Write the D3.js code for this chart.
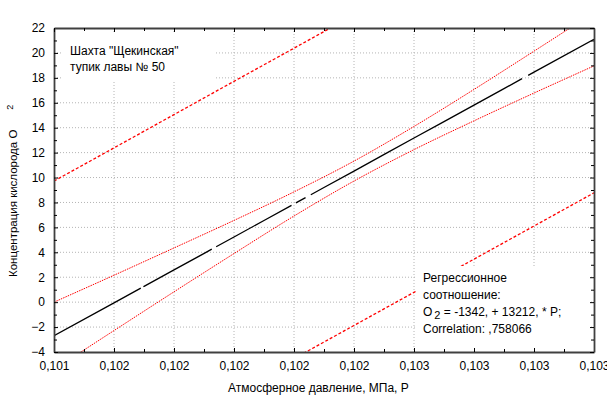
<!DOCTYPE html>
<html>
<head>
<meta charset="utf-8">
<script src="https://cdn.jsdelivr.net/npm/d3@7"></script>
<style>
  body { margin: 0; background: #fff; }
  svg text { font-family: "Liberation Sans", Arial, sans-serif; font-size: 12px; fill: #000; }
</style>
</head>
<body>
<svg id="chart" width="607" height="398"></svg>
<script>
// pressure values (MPa) at the x ticks
var pressure = [0.1014, 0.1016, 0.1018, 0.1020, 0.1022, 0.1024, 0.1026, 0.1028, 0.1030, 0.1032];
var xTickLabels = ["0,101", "0,102", "0,102", "0,102", "0,102", "0,102", "0,103", "0,103", "0,103", "0,103"];
var yTicks = [-4, -2, 0, 2, 4, 6, 8, 10, 12, 14, 16, 18, 20, 22];

// O2 concentration at each pressure value
var fitO2 = [-2.70, -0.06, 2.59, 5.23, 7.88, 10.52, 13.17, 15.81, 18.46, 21.10];
var confUpper = [0.00, 2.16, 4.35, 6.56, 8.85, 11.32, 14.10, 17.07, 20.14, 23.24];
var confLower = [-5.40, -2.28, 0.83, 3.90, 6.91, 9.72, 12.24, 14.55, 16.78, 18.96];
var predUpper = [9.72, 12.38, 15.05, 17.72, 20.38, 23.05, 25.72, 28.38, 31.05, 33.72];
var predLower = [-15.17, -12.51, -9.85, -7.19, -4.53, -1.87, 0.79, 3.45, 6.11, 8.77];

var titleLines = ['Шахта "Щекинская"', 'тупик лавы № 50'];
var noteLines = ['Регрессионное', 'соотношение:'];

var margin = { top: 28, right: 13, bottom: 46, left: 54 };
var width = 607 - margin.left - margin.right;
var height = 398 - margin.top - margin.bottom;

var svg = d3.select('#chart');
var g = svg.append('g')
    .attr('transform', 'translate(' + margin.left + ',' + margin.top + ')');

var x = d3.scaleLinear()
    .domain([pressure[0], pressure[pressure.length - 1]])
    .range([0, width]);

var y = d3.scaleLinear()
    .domain([-4, 22])
    .range([height, 0]);

// minor tick positions halfway between the majors
var xMinor = d3.pairs(pressure).map(function(p) { return (p[0] + p[1]) / 2; });
var yMinor = d3.pairs(yTicks).map(function(p) { return (p[0] + p[1]) / 2; });

// grid
g.append('g').selectAll('line')
    .data(pressure.slice(1, -1))
    .join('line')
    .attr('x1', function(d) { return x(d); })
    .attr('x2', function(d) { return x(d); })
    .attr('y1', 0)
    .attr('y2', height)
    .attr('stroke', '#b4b4b4')
    .attr('stroke-dasharray', '1,2');

g.append('g').selectAll('line')
    .data(yTicks.slice(1, -1))
    .join('line')
    .attr('y1', function(d) { return y(d); })
    .attr('y2', function(d) { return y(d); })
    .attr('x1', 0)
    .attr('x2', width)
    .attr('stroke', '#b4b4b4')
    .attr('stroke-dasharray', '1,2');

g.append('clipPath')
    .attr('id', 'plotClip')
    .append('rect')
    .attr('width', width)
    .attr('height', height);

var line = d3.line()
    .x(function(d) { return x(d[0]); })
    .y(function(d) { return y(d[1]); })
    .curve(d3.curveMonotoneX);

function series(values) {
  return d3.zip(pressure, values);
}

var plot = g.append('g').attr('clip-path', 'url(#plotClip)');

plot.append('path')
    .datum(series(predUpper))
    .attr('fill', 'none')
    .attr('stroke', '#ff0000')
    .attr('stroke-width', 1.3)
    .attr('stroke-dasharray', '3,2')
    .attr('d', line);

plot.append('path')
    .datum(series(predLower))
    .attr('fill', 'none')
    .attr('stroke', '#ff0000')
    .attr('stroke-width', 1.3)
    .attr('stroke-dasharray', '3,2')
    .attr('d', line);

plot.append('path')
    .datum(series(confUpper))
    .attr('fill', 'none')
    .attr('stroke', '#ff0000')
    .attr('stroke-width', 1)
    .attr('stroke-dasharray', '1.5,1')
    .attr('d', line);

plot.append('path')
    .datum(series(confLower))
    .attr('fill', 'none')
    .attr('stroke', '#ff0000')
    .attr('stroke-width', 1)
    .attr('stroke-dasharray', '1.5,1')
    .attr('d', line);

plot.append('path')
    .datum(series(fitO2))
    .attr('fill', 'none')
    .attr('stroke', '#000')
    .attr('stroke-width', 1.3)
    .attr('stroke-dasharray', '99,3,78,5,86,5,11,6,241,7,100')
    .attr('d', line);

// white boxes behind the texts
g.append('rect')
    .attr('x', 9).attr('y', 6)
    .attr('width', 152).attr('height', 46)
    .attr('fill', '#fff');

g.append('rect')
    .attr('x', 362).attr('y', 238)
    .attr('width', 174).attr('height', height - 238)
    .attr('fill', '#fff');

g.append('g').selectAll('text')
    .data(titleLines)
    .join('text')
    .attr('x', 16)
    .attr('y', function(d, i) { return 27 + i * 16; })
    .text(function(d) { return d; });

var note = g.append('g').attr('transform', 'translate(369,254)');
note.selectAll('text.n')
    .data(noteLines)
    .join('text')
    .attr('class', 'n')
    .attr('y', function(d, i) { return i * 17; })
    .text(function(d) { return d; });

var eq = note.append('text').attr('y', 34);
eq.append('tspan').text('O');
eq.append('tspan').attr('dx', 2).attr('dy', 3).style('font-size', '11px').text('2');
eq.append('tspan').attr('dy', -3).text(' = -1342, + 13212, * P;');

note.append('text').attr('y', 51).text('Correlation: ,758066');

// axes
function frame(axis) {
  return function(sel) {
    sel.call(axis);
    sel.select('.domain').attr('stroke', '#404040').attr('stroke-width', 1.8);
    sel.selectAll('.tick line').attr('stroke', '#000');
  };
}

g.append('g')
    .attr('transform', 'translate(0,' + height + ')')
    .call(frame(d3.axisBottom(x).tickValues(pressure).tickSize(-4).tickSizeOuter(0).tickPadding(9)
        .tickFormat(function(d, i) { return xTickLabels[i]; })));

g.append('g')
    .call(frame(d3.axisLeft(y).tickValues(yTicks).tickSize(-4).tickSizeOuter(0).tickPadding(9)
        .tickFormat(d3.format('d'))));

g.append('g')
    .call(frame(d3.axisTop(x).tickValues(pressure).tickSize(-4).tickSizeOuter(0).tickFormat('')));

g.append('g')
    .attr('transform', 'translate(' + width + ',0)')
    .call(frame(d3.axisRight(y).tickValues(yTicks).tickSize(-4).tickSizeOuter(0).tickFormat('')));

// minor ticks
g.append('g').attr('transform', 'translate(0,' + height + ')')
    .call(d3.axisBottom(x).tickValues(xMinor).tickSize(-3).tickFormat(''))
    .call(function(s) { s.select('.domain').remove(); });
g.append('g')
    .call(d3.axisTop(x).tickValues(xMinor).tickSize(-3).tickFormat(''))
    .call(function(s) { s.select('.domain').remove(); });
g.append('g')
    .call(d3.axisLeft(y).tickValues(yMinor).tickSize(-3).tickFormat(''))
    .call(function(s) { s.select('.domain').remove(); });
g.append('g').attr('transform', 'translate(' + width + ',0)')
    .call(d3.axisRight(y).tickValues(yMinor).tickSize(-3).tickFormat(''))
    .call(function(s) { s.select('.domain').remove(); });

g.selectAll('.tick text')
    .style('font-family', '"Liberation Sans", Arial, sans-serif')
    .style('font-size', '12px')
    .attr('fill', '#000');

// axis titles
svg.append('text')
    .attr('x', 228)
    .attr('y', 392)
    .text('Атмосферное давление, МПа, Р');

var yTitle = svg.append('text')
    .attr('transform', 'translate(17,277) rotate(-90)')
    .style('font-size', '11.5px');
yTitle.append('tspan').text('Концентрация кислорода O');
yTitle.append('tspan').attr('dx', 20).attr('dy', -4).style('font-size', '9px').text('2');
</script>
</body>
</html>
